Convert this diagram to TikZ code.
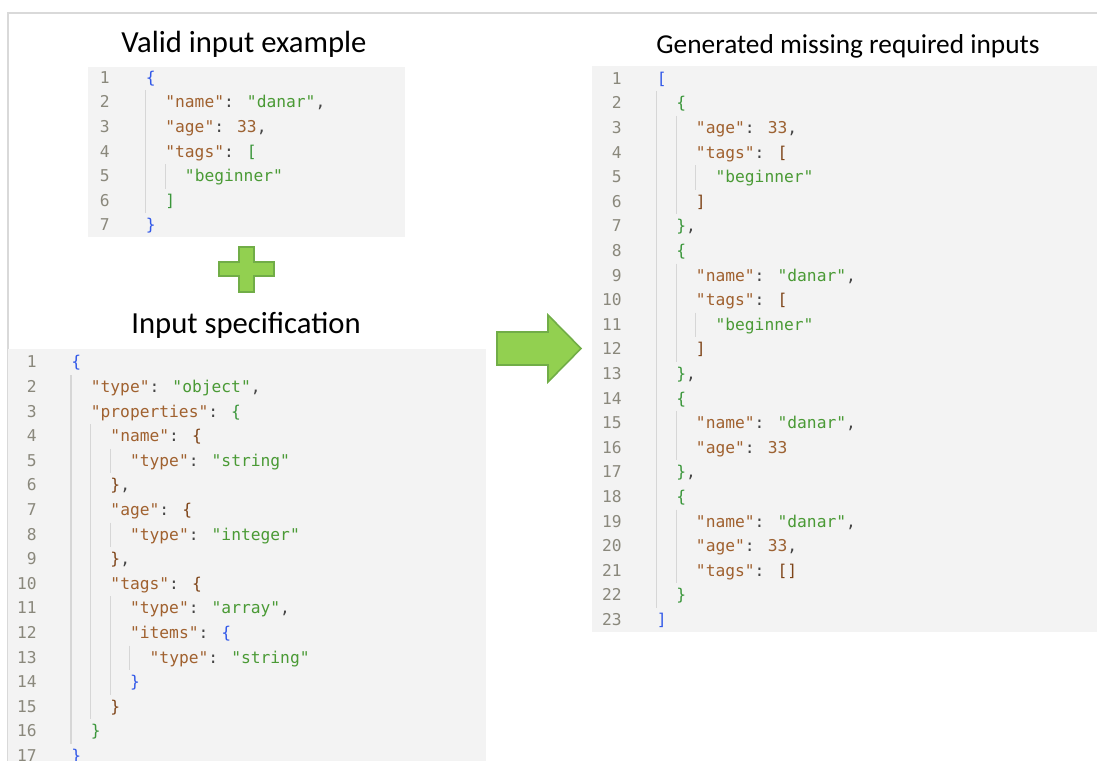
\documentclass[tikz,border=0pt]{standalone}
\usepackage{fontspec}
\setmainfont{Carlito}
\newfontfamily\monoc{DejaVu Sans Mono}[Ligatures=TeXOff]
\definecolor{ckey}{HTML}{A0612F}
\definecolor{cstr}{HTML}{4A9A35}
\definecolor{cnum}{HTML}{9C6233}
\definecolor{cpun}{HTML}{444444}
\definecolor{brA}{HTML}{3158E8}
\definecolor{brB}{HTML}{3A963A}
\definecolor{brC}{HTML}{7E4418}
\definecolor{lnc}{HTML}{8A887C}
\definecolor{boxbg}{HTML}{F3F3F3}
\definecolor{guidec}{HTML}{D6D6D6}
\definecolor{framec}{HTML}{D9D9D9}
\definecolor{gfill}{HTML}{92D050}
\definecolor{gdraw}{HTML}{71AD47}
\newcommand\jkey[1]{\textcolor{ckey}{"#1"}}
\newcommand\jstr[1]{\textcolor{cstr}{"#1"}}
\newcommand\jnum[1]{\textcolor{cnum}{#1}}
\newcommand\jpun[1]{\textcolor{cpun}{#1}}
\newcommand\jbA[1]{\textcolor{brA}{#1}}
\newcommand\jbB[1]{\textcolor{brB}{#1}}
\newcommand\jbC[1]{\textcolor{brC}{#1}}
\newcommand\cw{9.8}
\newcommand\lsp{24.6}
\newcommand\bsh{5.2}
% #1 prefix, #2 code left, #3 y of line 1, #4 line no, #5 column, #6 content
\newcommand\codeln[6]{%
  \node[codetext] (#1c#4) at ({#2+#5*\cw},{#3+(#4-1)*\lsp+\bsh}) {#6};}
% #1 code left, #2 y of line 1, #3 column, #4 first line, #5 last line
\newcommand\guide[5]{%
  \draw[guideline] ({#1+#3*\cw},{#2+(#4-1)*\lsp-\lsp/2}) -- ({#1+#3*\cw},{#2+(#5-1)*\lsp+\lsp/2});}
\tikzset{
  codetext/.style={anchor=base west, inner sep=0pt, font=\monoc\fontsize{12.2}{14}\selectfont, text=cpun},
  lnumtext/.style={anchor=base east, inner sep=0pt, font=\monoc\fontsize{12.2}{14}\selectfont, text=lnc},
  guideline/.style={draw=guidec, line width=0.9pt},
  codebox/.style={fill=boxbg, draw=none},
  title/.style={anchor=base, inner sep=0pt, text=black},
  greenshape/.style={fill=gfill, draw=gdraw, line width=1.2pt, line join=miter}
}
\begin{document}
\begin{tikzpicture}[x=0.75pt,y=-0.75pt]
\useasboundingbox (0,0) rectangle (1097,761);
\clip (0,0) rectangle (1097,761);
% frame
\draw[framec, line width=1.5pt] (1097,12.5) -- (7.5,12.5) -- (7.5,761);
% boxes
\fill[codebox] (88,67) rectangle (405,237);
\fill[codebox] (8,349) rectangle (486,761);
\fill[codebox] (592,66) rectangle (1097,632);
% titles
\node[title, font=\fontsize{23}{27}\selectfont] (t1) at (244,52) {Valid input example};
\node[title, font=\fontsize{23}{27}\selectfont] (t2) at (246,333) {Input specification};
\node[title, font=\fontsize{20.5}{24}\selectfont] (t3) at (848,53) {Generated missing required inputs};
% plus
\draw[greenshape] (239,247) -- (254,247) -- (254,262) -- (274,262) -- (274,276) -- (254,276) -- (254,292) -- (239,292) -- (239,276) -- (219,276) -- (219,262) -- (239,262) -- cycle;
% arrow
\draw[greenshape] (497,332) -- (548,332) -- (548,315) -- (581,348.5) -- (548,382) -- (548,365) -- (497,365) -- cycle;

% ---------- top box ----------
\foreach \k in {1,...,7} \node[lnumtext] (an\k) at (110,{78+(\k-1)*\lsp+\bsh}) {\k};
\guide{145.5}{78}{0}{2}{6}
\guide{145.5}{78}{2}{5}{5}
\codeln{a}{145.5}{78}{1}{0}{\jbA{\{}}
\codeln{a}{145.5}{78}{2}{2}{\jkey{name}\jpun{:} \jstr{danar}\jpun{,}}
\codeln{a}{145.5}{78}{3}{2}{\jkey{age}\jpun{:} \jnum{33}\jpun{,}}
\codeln{a}{145.5}{78}{4}{2}{\jkey{tags}\jpun{:} \jbB{[}}
\codeln{a}{145.5}{78}{5}{4}{\jstr{beginner}}
\codeln{a}{145.5}{78}{6}{2}{\jbB{]}}
\codeln{a}{145.5}{78}{7}{0}{\jbA{\}}}

% ---------- spec box ----------
\foreach \k in {1,...,17} \node[lnumtext] (bn\k) at (37,{362.7+(\k-1)*\lsp+\bsh}) {\k};
\guide{71}{362.7}{0}{2}{16}
\guide{71}{362.7}{2}{4}{15}
\guide{71}{362.7}{4}{5}{5}
\guide{71}{362.7}{4}{8}{8}
\guide{71}{362.7}{4}{11}{14}
\guide{71}{362.7}{6}{13}{13}
\codeln{b}{71}{362.7}{1}{0}{\jbA{\{}}
\codeln{b}{71}{362.7}{2}{2}{\jkey{type}\jpun{:} \jstr{object}\jpun{,}}
\codeln{b}{71}{362.7}{3}{2}{\jkey{properties}\jpun{:} \jbB{\{}}
\codeln{b}{71}{362.7}{4}{4}{\jkey{name}\jpun{:} \jbC{\{}}
\codeln{b}{71}{362.7}{5}{6}{\jkey{type}\jpun{:} \jstr{string}}
\codeln{b}{71}{362.7}{6}{4}{\jbC{\}}\jpun{,}}
\codeln{b}{71}{362.7}{7}{4}{\jkey{age}\jpun{:} \jbC{\{}}
\codeln{b}{71}{362.7}{8}{6}{\jkey{type}\jpun{:} \jstr{integer}}
\codeln{b}{71}{362.7}{9}{4}{\jbC{\}}\jpun{,}}
\codeln{b}{71}{362.7}{10}{4}{\jkey{tags}\jpun{:} \jbC{\{}}
\codeln{b}{71}{362.7}{11}{6}{\jkey{type}\jpun{:} \jstr{array}\jpun{,}}
\codeln{b}{71}{362.7}{12}{6}{\jkey{items}\jpun{:} \jbA{\{}}
\codeln{b}{71}{362.7}{13}{8}{\jkey{type}\jpun{:} \jstr{string}}
\codeln{b}{71}{362.7}{14}{6}{\jbA{\}}}
\codeln{b}{71}{362.7}{15}{4}{\jbC{\}}}
\codeln{b}{71}{362.7}{16}{2}{\jbB{\}}}
\codeln{b}{71}{362.7}{17}{0}{\jbA{\}}}

% ---------- right box ----------
\foreach \k in {1,...,23} \node[lnumtext] (cn\k) at (622,{79+(\k-1)*\lsp+\bsh}) {\k};
\guide{656.5}{79}{0}{2}{22}
\guide{656.5}{79}{2}{3}{6}
\guide{656.5}{79}{2}{9}{12}
\guide{656.5}{79}{2}{15}{16}
\guide{656.5}{79}{2}{19}{21}
\guide{656.5}{79}{4}{5}{5}
\guide{656.5}{79}{4}{11}{11}
\codeln{c}{656.5}{79}{1}{0}{\jbA{[}}
\codeln{c}{656.5}{79}{2}{2}{\jbB{\{}}
\codeln{c}{656.5}{79}{3}{4}{\jkey{age}\jpun{:} \jnum{33}\jpun{,}}
\codeln{c}{656.5}{79}{4}{4}{\jkey{tags}\jpun{:} \jbC{[}}
\codeln{c}{656.5}{79}{5}{6}{\jstr{beginner}}
\codeln{c}{656.5}{79}{6}{4}{\jbC{]}}
\codeln{c}{656.5}{79}{7}{2}{\jbB{\}}\jpun{,}}
\codeln{c}{656.5}{79}{8}{2}{\jbB{\{}}
\codeln{c}{656.5}{79}{9}{4}{\jkey{name}\jpun{:} \jstr{danar}\jpun{,}}
\codeln{c}{656.5}{79}{10}{4}{\jkey{tags}\jpun{:} \jbC{[}}
\codeln{c}{656.5}{79}{11}{6}{\jstr{beginner}}
\codeln{c}{656.5}{79}{12}{4}{\jbC{]}}
\codeln{c}{656.5}{79}{13}{2}{\jbB{\}}\jpun{,}}
\codeln{c}{656.5}{79}{14}{2}{\jbB{\{}}
\codeln{c}{656.5}{79}{15}{4}{\jkey{name}\jpun{:} \jstr{danar}\jpun{,}}
\codeln{c}{656.5}{79}{16}{4}{\jkey{age}\jpun{:} \jnum{33}}
\codeln{c}{656.5}{79}{17}{2}{\jbB{\}}\jpun{,}}
\codeln{c}{656.5}{79}{18}{2}{\jbB{\{}}
\codeln{c}{656.5}{79}{19}{4}{\jkey{name}\jpun{:} \jstr{danar}\jpun{,}}
\codeln{c}{656.5}{79}{20}{4}{\jkey{age}\jpun{:} \jnum{33}\jpun{,}}
\codeln{c}{656.5}{79}{21}{4}{\jkey{tags}\jpun{:} \jbC{[]}}
\codeln{c}{656.5}{79}{22}{2}{\jbB{\}}}
\codeln{c}{656.5}{79}{23}{0}{\jbA{]}}
\end{tikzpicture}
\end{document}
